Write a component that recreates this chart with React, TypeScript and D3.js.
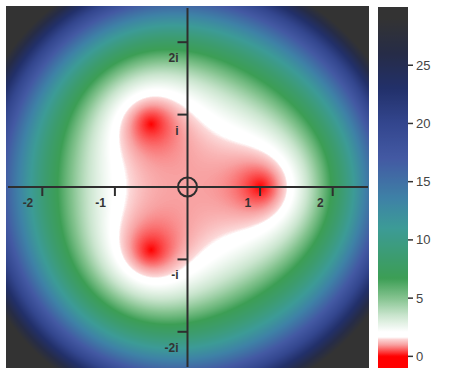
import React, { useMemo } from "react";
import * as d3 from "d3";

// f(z) = |z^3 - 1|, polynomial coefficients from highest degree
const polyCoeffs = [1, 0, 0, -1];
const xDomain = [-2.5, 2.5];
const yDomain = [-2.5, 2.5];

const xTicks = [-2, -1, 1, 2];
const xTickLabels = ["-2", "-1", "1", "2"];
const yTicks = [2, 1, -1, -2];
const yTickLabels = ["2i", "i", "-i", "-2i"];

const cbDomain = [-1, 30];
const cbTicks = [0, 5, 10, 15, 20, 25];

const stopValues = [-1, 0, 1, 1.5, 1.62, 2.1, 3.5, 5, 6.7, 8.5, 11, 13.5, 17, 20, 23, 26, 29, 30];
const stopColors = [
  "#ff0000", "#ff0000", "#f8a2a2", "#fcd8d8", "#ffffff", "#ffffff", "#cae5ce", "#84c38f",
  "#3c9e55", "#3c9c6f", "#3c9b96", "#3e82a6", "#4359a3", "#33468e", "#22306a",
  "#262c47", "#333333", "#333333",
];

const W = 474;
const H = 379;
const PX0 = 6, PX1 = 369, PY0 = 6, PY1 = 368;
const CBX = 378, CBW = 30, CBY0 = 7, CBY1 = 368;

function evalPoly(re: number, im: number): number {
  let ar = 0, ai = 0;
  for (const c of polyCoeffs) {
    const nr = ar * re - ai * im + c;
    const ni = ar * im + ai * re;
    ar = nr; ai = ni;
  }
  return Math.hypot(ar, ai);
}

export default function App() {
  const xScale = d3.scaleLinear().domain(xDomain).range([PX0, PX1]);
  const yScale = d3.scaleLinear().domain(yDomain).range([PY1, PY0]);
  const colorScale = d3
    .scaleLinear<string>()
    .domain(stopValues)
    .range(stopColors)
    .interpolate(d3.interpolateRgb)
    .clamp(true);
  const cbScale = d3.scaleLinear().domain(cbDomain).range([CBY1, CBY0]);

  const href = useMemo(() => {
    const w = PX1 - PX0;
    const h = PY1 - PY0;
    const canvas = document.createElement("canvas");
    canvas.width = w;
    canvas.height = h;
    const ctx = canvas.getContext("2d");
    if (!ctx) return "";
    const img = ctx.createImageData(w, h);
    const N = 2048;
    const lut: number[][] = [];
    for (let k = 0; k <= N; k++) {
      const v = cbDomain[0] + ((cbDomain[1] - cbDomain[0]) * k) / N;
      const c = d3.rgb(colorScale(v));
      lut.push([c.r, c.g, c.b]);
    }
    for (let j = 0; j < h; j++) {
      const im = yScale.invert(PY0 + j + 0.5);
      for (let i = 0; i < w; i++) {
        const re = xScale.invert(PX0 + i + 0.5);
        const v = evalPoly(re, im);
        let k = Math.round(((v - cbDomain[0]) / (cbDomain[1] - cbDomain[0])) * N);
        k = Math.max(0, Math.min(N, k));
        const c = lut[k];
        const o = (j * w + i) * 4;
        img.data[o] = c[0];
        img.data[o + 1] = c[1];
        img.data[o + 2] = c[2];
        img.data[o + 3] = 255;
      }
    }
    ctx.putImageData(img, 0, 0);
    return canvas.toDataURL();
  }, []);

  const gradStops = d3.range(0, 301).map((k) => {
    const t = k / 300;
    const v = cbDomain[0] + (cbDomain[1] - cbDomain[0]) * t;
    return { offset: t, color: colorScale(v) };
  });

  const ox = xScale(0);
  const oy = yScale(0);
  const axisColor = "#2e2e2e";
  const labelFont = "'Liberation Sans', Arial, sans-serif";

  return (
    <svg
      width={W}
      height={H}
      style={{ position: "absolute", left: 0, top: 0, background: "#fff" }}
    >
      <defs>
        <linearGradient id="cbgrad" x1="0" y1="1" x2="0" y2="0">
          {gradStops.map((s, i) => (
            <stop key={i} offset={s.offset} stopColor={s.color} />
          ))}
        </linearGradient>
      </defs>
      <image
        href={href}
        x={PX0}
        y={PY0}
        width={PX1 - PX0}
        height={PY1 - PY0}
        preserveAspectRatio="none"
      />
      {/* axes */}
      <line x1={PX0 + 2} x2={PX1 - 1} y1={oy} y2={oy} stroke={axisColor} strokeWidth={2} />
      <line x1={ox} x2={ox} y1={PY0 + 2} y2={PY1 - 1} stroke={axisColor} strokeWidth={2} />
      <circle cx={ox} cy={oy} r={9.5} fill="none" stroke={axisColor} strokeWidth={2} />
      {xTicks.map((t, i) => (
        <g key={"xt" + i}>
          <line x1={xScale(t)} x2={xScale(t)} y1={oy} y2={oy + 9} stroke={axisColor} strokeWidth={2} />
          <text
            x={xScale(t) - 9}
            y={oy + 20}
            textAnchor="end"
            fontFamily={labelFont}
            fontWeight="bold"
            fontSize={12}
            fill="#333"
          >
            {xTickLabels[i]}
          </text>
        </g>
      ))}
      {yTicks.map((t, i) => (
        <g key={"yt" + i}>
          <line x1={ox - 10} x2={ox} y1={yScale(t)} y2={yScale(t)} stroke={axisColor} strokeWidth={2} />
          <text
            x={ox - 9}
            y={yScale(t) + 20}
            textAnchor="end"
            fontFamily={labelFont}
            fontWeight="bold"
            fontSize={12}
            fill="#333"
          >
            {yTickLabels[i]}
          </text>
        </g>
      ))}
      {/* colorbar */}
      <rect x={CBX} y={CBY0} width={CBW} height={CBY1 - CBY0} fill="url(#cbgrad)" />
      {cbTicks.map((t) => (
        <g key={"cb" + t}>
          <line x1={CBX + CBW} x2={CBX + CBW + 5} y1={cbScale(t)} y2={cbScale(t)} stroke="#333" strokeWidth={1.5} />
          <text
            x={CBX + CBW + 8}
            y={cbScale(t)}
            dy="0.35em"
            fontFamily={labelFont}
            fontSize={13}
            fill="#444"
          >
            {t}
          </text>
        </g>
      ))}
    </svg>
  );
}
